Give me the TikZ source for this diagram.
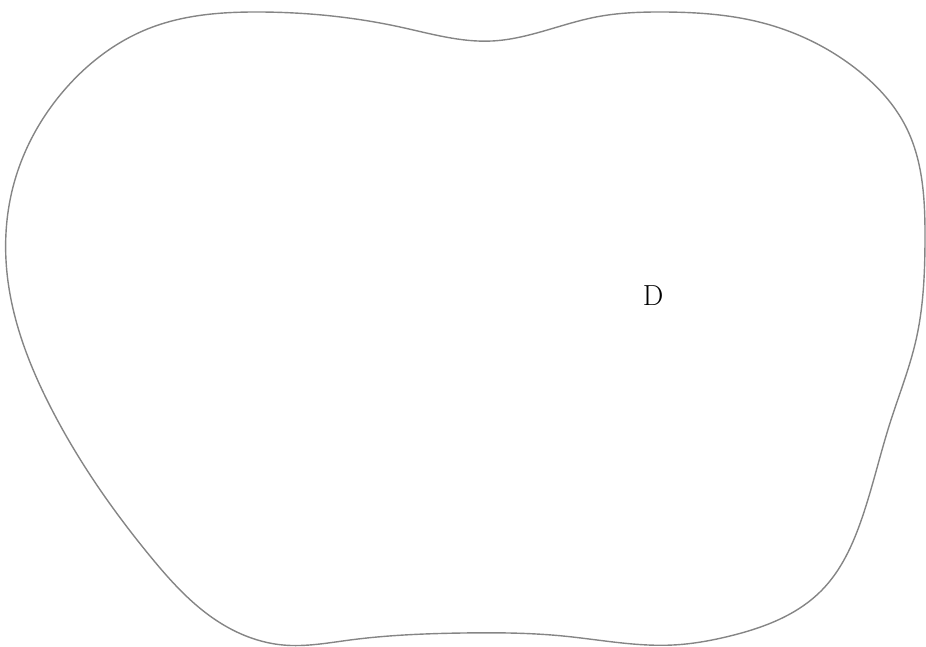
\documentclass[tikz,border=0pt]{standalone}
\usetikzlibrary{hobby}
\begin{document}
\begin{tikzpicture}[x=1pt,y=-1pt,
  outline/.style={draw=black!48,line width=1.4pt},
  lbl/.style={font=\fontsize{29}{30}\selectfont,inner sep=0pt}]
\useasboundingbox (0,0) rectangle (926,647);
\draw[outline,use Hobby shortcut,closed=true]
  (260,12) .. (400,27) .. (492,41) .. (596,17) .. (663,12) .. (763,23)
  .. (855,68) .. (906,127) .. (925,240) .. (916,340) .. (890,423)
  .. (862,518) .. (822,590) .. (730,636) .. (673,645) .. (563,636)
  .. (463,633) .. (350,640) .. (283,645) .. (222,624) .. (150,556)
  .. (50,406) .. (7,273) .. (13,187) .. (67,87) .. (150,28);
\node[lbl] (D) at (653,296) {D};
\end{tikzpicture}
\end{document}
